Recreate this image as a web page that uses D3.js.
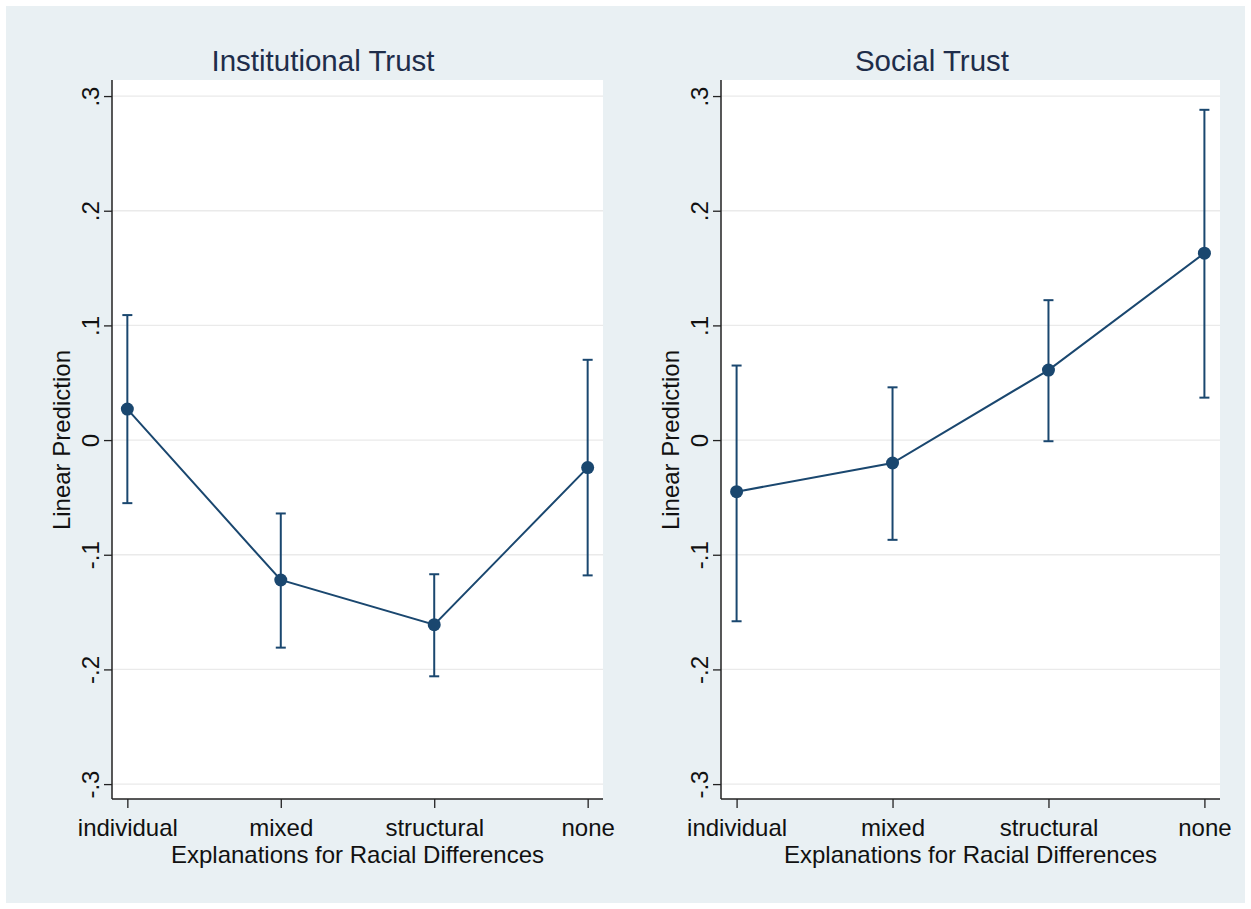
<!DOCTYPE html>
<html>
<head>
<meta charset="utf-8">
<script src="https://cdn.jsdelivr.net/npm/d3@7/dist/d3.min.js"></script>
<style>
  html, body { margin: 0; padding: 0; background: #ffffff; }
  svg { display: block; font-family: "Liberation Sans", Arial, sans-serif; }
</style>
</head>
<body>
<svg id="chart" width="1251" height="909"></svg>
<script>
// ---- Data ----
const categories = ["individual", "mixed", "structural", "none"];
const yTickValues = [-0.3, -0.2, -0.1, 0, 0.1, 0.2, 0.3];
const yTickLabels = ["-.3", "-.2", "-.1", "0", ".1", ".2", ".3"];

const institutionalEst = [0.027, -0.122, -0.161, -0.024];
const institutionalLo  = [-0.055, -0.181, -0.206, -0.118];
const institutionalHi  = [0.109, -0.064, -0.117, 0.070];

const socialEst = [-0.045, -0.020, 0.061, 0.163];
const socialLo  = [-0.158, -0.087, -0.001, 0.037];
const socialHi  = [0.065, 0.046, 0.122, 0.288];

const panelTitles = ["Institutional Trust", "Social Trust"];
const xAxisTitle = "Explanations for Racial Differences";
const yAxisTitle = "Linear Prediction";

// ---- Layout ----
const svg = d3.select("#chart");
const W = 1251, H = 909;
const navy = "#1a476f";

svg.append("rect").attr("x", 0).attr("y", 0).attr("width", W).attr("height", H).attr("fill", "#ffffff");
svg.append("rect").attr("x", 6).attr("y", 6).attr("width", W - 12).attr("height", H - 12).attr("fill", "#e9f0f3");

const panels = [
  { title: panelTitles[0], titleX: 323, left: 112, right: 603, est: institutionalEst, lo: institutionalLo, hi: institutionalHi },
  { title: panelTitles[1], titleX: 932, left: 721, right: 1220, est: socialEst, lo: socialLo, hi: socialHi }
];
const plotTop = 80, plotBottom = 799;

panels.forEach(p => {
  const g = svg.append("g");
  const x = d3.scaleLinear().domain([0.9, 4.1]).range([p.left, p.right]);
  const y = d3.scaleLinear().domain([-0.313, 0.314]).range([plotBottom, plotTop]);

  // plot region
  g.append("rect").attr("x", p.left).attr("y", plotTop)
    .attr("width", p.right - p.left).attr("height", plotBottom - plotTop).attr("fill", "#ffffff");

  // gridlines
  g.selectAll(".grid").data(yTickValues).enter().append("line")
    .attr("x1", p.left).attr("x2", p.right)
    .attr("y1", d => y(d)).attr("y2", d => y(d))
    .attr("stroke", "#eaeaea").attr("stroke-width", 1.3);

  // y axis
  const yAxis = d3.axisLeft(y).tickValues(yTickValues)
    .tickFormat((d, i) => yTickLabels[i]).tickSize(8).tickPadding(5);
  const ya = g.append("g").attr("transform", `translate(${p.left},0)`).call(yAxis);
  ya.select(".domain").attr("d", `M0,${plotTop}V${plotBottom}`).attr("stroke", "#222").attr("stroke-width", 1.5);
  ya.selectAll(".tick line").attr("stroke", "#222").attr("stroke-width", 1.3);
  ya.selectAll(".tick text")
    .attr("font-size", 24).attr("fill", "#111")
    .attr("x", null).attr("dy", null)
    .attr("text-anchor", "middle")
    .attr("transform", "translate(-13,0) rotate(-90)")
    .attr("y", 0);

  // x axis
  const xAxis = d3.axisBottom(x).tickValues([1, 2, 3, 4])
    .tickFormat((d, i) => categories[i]).tickSize(9).tickPadding(10);
  const xa = g.append("g").attr("transform", `translate(0,${plotBottom})`).call(xAxis);
  xa.select(".domain").attr("d", `M${p.left},0H${p.right}`).attr("stroke", "#222").attr("stroke-width", 1.5);
  xa.selectAll(".tick line").attr("stroke", "#222").attr("stroke-width", 1.3);
  xa.selectAll(".tick text").attr("font-size", 24).attr("fill", "#111")
    .attr("y", 37).attr("dy", null);

  // titles
  g.append("text").attr("x", p.titleX).attr("y", 71).attr("text-anchor", "middle")
    .attr("font-size", 29.5).attr("fill", "#1e2d4a").text(p.title);
  g.append("text").attr("x", (p.left + p.right) / 2).attr("y", 863).attr("text-anchor", "middle")
    .attr("font-size", 24).attr("fill", "#111").text(xAxisTitle);
  g.append("text")
    .attr("transform", `translate(${p.left - 42},${y(0)}) rotate(-90)`)
    .attr("text-anchor", "middle").attr("font-size", 24).attr("fill", "#111").text(yAxisTitle);

  // error bars
  const idx = d3.range(categories.length);
  const capW = 5;
  const eb = g.append("g").attr("stroke", navy).attr("stroke-width", 2).attr("fill", "none");
  eb.selectAll(".v").data(idx).enter().append("line")
    .attr("x1", i => x(i + 1)).attr("x2", i => x(i + 1))
    .attr("y1", i => y(p.lo[i])).attr("y2", i => y(p.hi[i]));
  eb.selectAll(".ch").data(idx).enter().append("line")
    .attr("x1", i => x(i + 1) - capW).attr("x2", i => x(i + 1) + capW)
    .attr("y1", i => y(p.hi[i])).attr("y2", i => y(p.hi[i]));
  eb.selectAll(".cl").data(idx).enter().append("line")
    .attr("x1", i => x(i + 1) - capW).attr("x2", i => x(i + 1) + capW)
    .attr("y1", i => y(p.lo[i])).attr("y2", i => y(p.lo[i]));

  // connecting line
  const line = d3.line().x(i => x(i + 1)).y(i => y(p.est[i]));
  g.append("path").datum(idx).attr("d", line)
    .attr("fill", "none").attr("stroke", navy).attr("stroke-width", 2);

  // markers
  g.selectAll(".pt").data(idx).enter().append("circle")
    .attr("cx", i => x(i + 1)).attr("cy", i => y(p.est[i])).attr("r", 6.5)
    .attr("fill", navy);
});
</script>
</body>
</html>
